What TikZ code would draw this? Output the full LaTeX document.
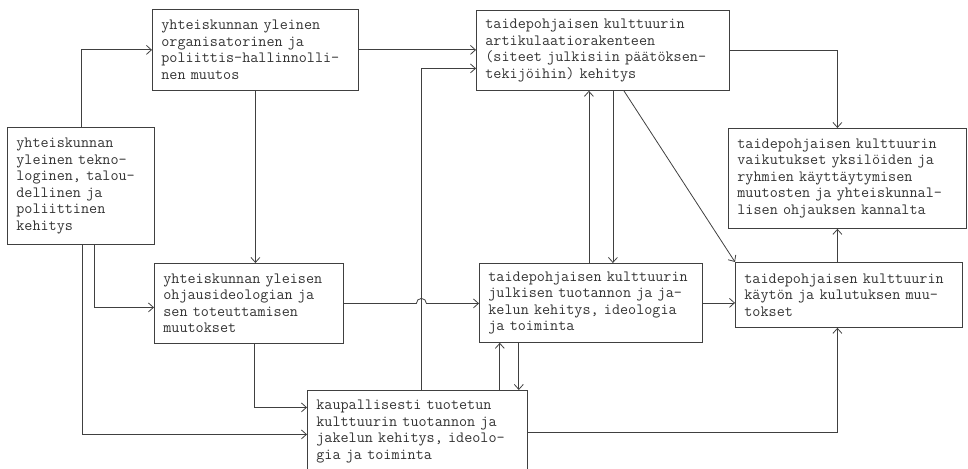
\documentclass[tikz,border=0pt]{standalone}
\usepackage{fontspec}
\usepackage{tikz}
\usetikzlibrary{calc,arrows.meta}
\tikzset{
	laatikko/.style={draw=black!75,line width=0.8pt,anchor=north west,align=left,inner xsep=9pt,inner ysep=3pt,text=black!80,font=\ttfamily\fontsize{15.7}{16.5}\selectfont},
	nuoli/.style={draw=black!75,line width=0.8pt,-{Straight Barb[length=5pt,width=9pt]}}
}

\begin{document}
\begin{tikzpicture}[x=1pt,y=1pt]
	
	\def\lev{968}
	\def\kork{468}
	\useasboundingbox (0,0) rectangle (\lev,-\kork);
	\clip (0,0) rectangle (\lev,-\kork); % leikkaa alareunan
	
	%Laatikot
	\node[laatikko,text width=129pt,minimum width=147pt,minimum height=117pt] (A) at (7,-127) {yhteiskunnan\\yleinen tekno-\\loginen, talou-\\dellinen ja\\poliittinen\\kehitys};
	\node[laatikko,text width=188pt,minimum width=206pt,minimum height=81pt] (B) at (152,-9) {yhteiskunnan yleinen\\organisatorinen ja\\poliittis-hallinnolli-\\nen muutos};
	\node[laatikko,text width=235pt,minimum width=253pt,minimum height=80pt] (C) at (476,-10) {taidepohjaisen kulttuurin\\artikulaatiorakenteen\\(siteet julkisiin päätöksen-\\tekijöihin) kehitys};
	\node[laatikko,text width=220pt,minimum width=238pt,minimum height=100pt] (D) at (728,-128) {taidepohjaisen kulttuurin\\vaikutukset yksilöiden ja\\ryhmien käyttäytymisen\\muutosten ja yhteiskunnal-\\lisen ohjauksen kannalta};
	\node[laatikko,text width=171pt,minimum width=189pt,minimum height=80pt] (E) at (154,-263) {yhteiskunnan yleisen\\ohjausideologian ja\\sen toteuttamisen\\muutokset};
	\node[laatikko,text width=205pt,minimum width=223pt,minimum height=79pt] (F) at (479,-263) {taidepohjaisen kulttuurin\\julkisen tuotannon ja ja-\\kelun kehitys, ideologia\\ja toiminta};
	\node[laatikko,text width=209pt,minimum width=227pt,minimum height=65pt] (G) at (735,-262) {taidepohjaisen kulttuurin\\käytön ja kulutuksen muu-\\tokset};
	\node[laatikko,text width=202pt,minimum width=220pt,minimum height=82pt] (H) at (307,-390) {kaupallisesti tuotetun\\kulttuurin tuotannon ja\\jakelun kehitys, ideolo-\\gia ja toiminta};
	
	%Apupisteet
	\coordinate (hyppy) at ($(H.north)+(4,0)$);
	\coordinate (f1) at ($(F.north)+(-2,0)$);
	\coordinate (c1) at ($(C.south)+(10,0)$);
	\coordinate (c2) at ($(C.south)+(21,0)$);
	\coordinate (oik) at ($(D.north)+(-10,0)$);
	\coordinate (h1) at ($(H.north east)+(-28,0)$);
	\coordinate (h2) at ($(H.north east)+(-9,0)$);
	
	%Nuolet vasemmalta
	\draw[nuoli] (A.north) |- (B.west);
	\draw[nuoli] ($(A.south)+(13,0)$) |- ($(E.west)+(0,-4)$);
	\draw[nuoli] ($(A.south)+(1,0)$) |- ($(H.west)+(0,-3)$);
	\draw[nuoli] (B.south) -- (B.south |- E.north);
	\draw[nuoli] ($(E.south)+(5,0)$) |- ($(H.west)+(0,24)$);
	\draw[nuoli] (B.east) -- (B.east -| C.west);
	\draw[nuoli] (hyppy) |- ($(C.west)+(0,-18)$);
	\draw[nuoli] (E.east) -- ($(E.east -| hyppy)+(-5,0)$) arc[start angle=180,end angle=0,radius=5] -- (E.east -| F.west);
	
	%Keskisarake
	\draw[nuoli] (f1) -- (f1 |- C.south);
	\draw[nuoli] (c1) -- (c1 |- F.north);
	\draw[nuoli] (c2) -- (G.north west);
	\draw[nuoli] (h1) -- (h1 |- F.south);
	\draw[nuoli] (h2 |- F.south) -- (h2);
	\draw[nuoli] (F.east) -- (F.east -| G.west);
	
	%Oikea sarake
	\draw[nuoli] (C.east) -| (oik);
	\draw[nuoli] (oik |- G.north) -- (oik |- D.south);
	\draw[nuoli] ($(H.east)+(0,-1)$) -| (oik |- G.south);
	
\end{tikzpicture}
\end{document}
